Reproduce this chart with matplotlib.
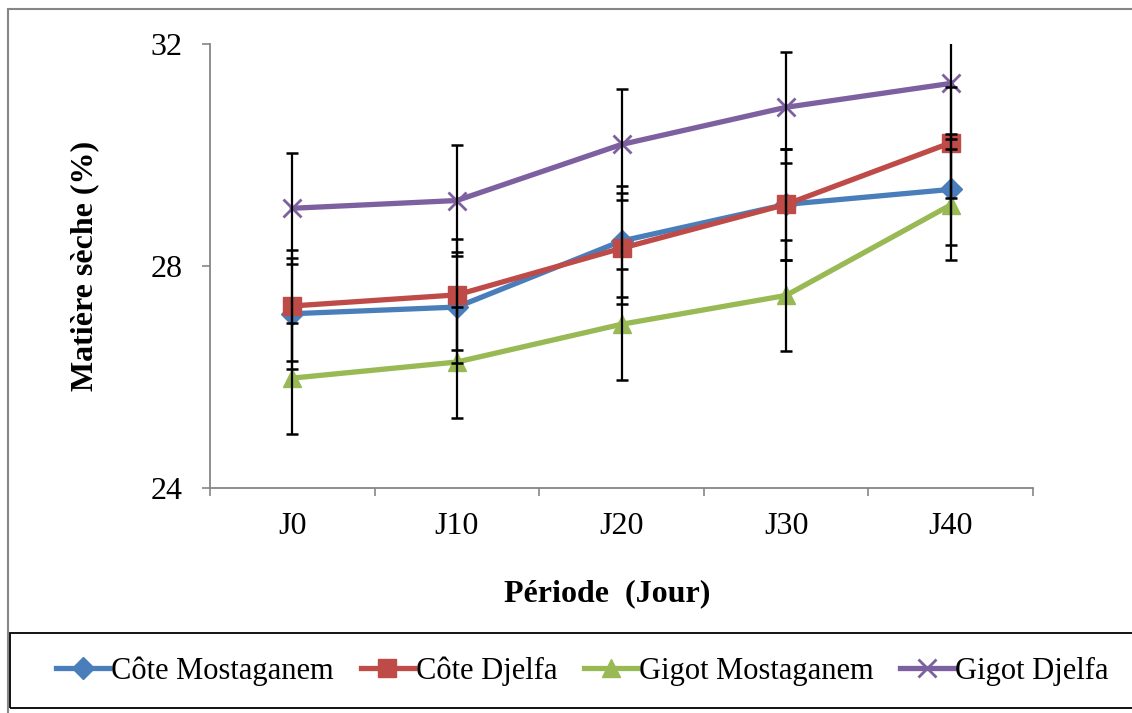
import matplotlib
matplotlib.use('Agg')
import matplotlib.pyplot as plt
from matplotlib.patches import Rectangle

plt.rcParams['font.family'] = ['Liberation Serif', 'DejaVu Serif']

# Data
days = ['J0', 'J10', 'J20', 'J30', 'J40']
cote_mosta = [27.14, 27.26, 28.45, 29.11, 29.38]
cote_djelfa = [27.28, 27.48, 28.32, 29.11, 30.22]
gigot_mosta = [25.98, 26.27, 26.95, 27.47, 29.10]
gigot_djelfa = [29.04, 29.18, 30.19, 30.86, 31.29]
err_cote_mosta = [1.0, 1.0, 1.0, 1.0, 1.0]
err_cote_djelfa = [1.0, 1.0, 1.0, 1.0, 1.0]
err_gigot_mosta = [1.0, 1.0, 1.0, 1.0, 1.0]
err_gigot_djelfa = [1.0, 1.0, 1.0, 1.0, 1.0]
series_names = ['Côte Mostaganem', 'Côte Djelfa', 'Gigot Mostaganem', 'Gigot Djelfa']

series = [
    (cote_mosta, err_cote_mosta, '#4A7EBB', 'D', 11),
    (cote_djelfa, err_cote_djelfa, '#BE4B48', 's', 12.5),
    (gigot_mosta, err_gigot_mosta, '#98B954', '^', 12.5),
    (gigot_djelfa, err_gigot_djelfa, '#7D60A0', 'x', 13),
]

GRAY = '#868686'

fig = plt.figure(figsize=(11.32, 7.13), dpi=100)
ax = fig.add_axes([210 / 1132, 1 - 488 / 713, (1033 - 210) / 1132, (488 - 44) / 713])

x = list(range(len(days)))
handles = []
for (vals, errs, color, mk, ms), name in zip(series, series_names):
    h, = ax.plot(x, vals, color=color, linewidth=3.8, marker=mk, markersize=ms,
                 markeredgewidth=2 if mk == 'x' else 1, markeredgecolor=color,
                 label=name, zorder=3)
    handles.append(h)
    ax.errorbar(x, vals, yerr=errs, fmt='none', ecolor='black', elinewidth=1.6,
                capsize=4.6, capthick=1.8, zorder=4)

ax.set_xlim(-0.5, len(days) - 0.5)
ax.set_ylim(24, 32)
ax.set_yticks([24, 28, 32])
ax.set_xticks(x)
ax.set_xticklabels(days)
ax.set_xticks([i - 0.5 for i in range(len(days) + 1)], minor=True)
ax.tick_params(axis='x', which='major', length=0, pad=17, labelsize=23)
ax.tick_params(axis='x', which='minor', length=6, color=GRAY, width=1.2, direction='out')
ax.tick_params(axis='y', length=6, color=GRAY, width=1.2, pad=14, labelsize=23)
for s in ['top', 'right']:
    ax.spines[s].set_visible(False)
for s in ['left', 'bottom']:
    ax.spines[s].set_color(GRAY)
    ax.spines[s].set_linewidth(1.3)

fig.text(85 / 1132, 1 - 266 / 713, 'Matière sèche (%)', rotation=90, ha='center', va='center',
         fontsize=23, fontweight='bold')
fig.text(607 / 1132, 1 - 594 / 713, 'Période  (Jour)', ha='center', va='center',
         fontsize=23, fontweight='bold')

# outer chart frame and legend box
fig.patches.append(Rectangle((8 / 1132, -0.05), 1.1, 1 - 9 / 713 + 0.05, transform=fig.transFigure,
                             fill=False, edgecolor=GRAY, linewidth=1.5))
fig.patches.append(Rectangle((10 / 1132, 1 - 708 / 713), 1.1, (708 - 633) / 713, transform=fig.transFigure,
                             fill=False, edgecolor='black', linewidth=1.3))

leg = fig.legend(handles=handles, loc='center left', bbox_to_anchor=(56 / 1132, 1 - 671 / 713),
                 ncol=4, frameon=False, fontsize=22, handlelength=1.75, handletextpad=0.05,
                 columnspacing=0.88, borderaxespad=0, borderpad=0)

fig.savefig('out.png', dpi=100)
